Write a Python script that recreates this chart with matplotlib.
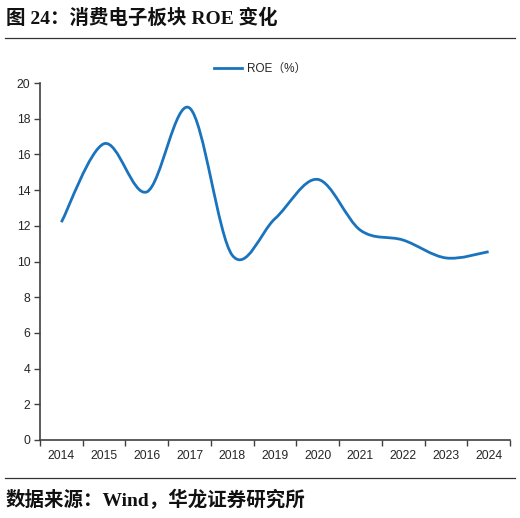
import numpy as np
import matplotlib
matplotlib.use("Agg")
import matplotlib.pyplot as plt
from matplotlib.path import Path
from matplotlib.patches import PathPatch
from matplotlib.lines import Line2D

years = ["2014", "2015", "2016", "2017", "2018", "2019", "2020", "2021", "2022", "2023", "2024"]
roe = [12.2, 16.6, 13.9, 18.6, 10.35, 12.4, 14.6, 11.75, 11.2, 10.2, 10.55]
yticks = [0, 2, 4, 6, 8, 10, 12, 14, 16, 18, 20]
series_name = "ROE（%）"
title = "图 24：消费电子板块 ROE 变化"
source = "数据来源：Wind，华龙证券研究所"

LINE_COLOR = "#1a74bd"
AXIS_COLOR = "#404040"
TXT_COLOR = "#262626"

plt.rcParams['font.family'] = ['Liberation Sans', 'Noto Sans CJK SC', 'DejaVu Sans']

fig = plt.figure(figsize=(5.2, 5.18), dpi=100)
W, H = 520, 518
ax = fig.add_axes([40 / W, 1 - 440 / H, 470 / W, (440 - 83) / H])

x = np.arange(len(years), dtype=float)
y = np.array(roe, dtype=float)

# smoothed line (Catmull-Rom style Bezier through the data points)
verts = [(x[0], y[0])]
codes = [Path.MOVETO]
n = len(x)
for i in range(n - 1):
    p_prev = np.array([x[max(i - 1, 0)], y[max(i - 1, 0)]])
    p0 = np.array([x[i], y[i]])
    p1 = np.array([x[i + 1], y[i + 1]])
    p_next = np.array([x[min(i + 2, n - 1)], y[min(i + 2, n - 1)]])
    c1 = p0 + (p1 - p_prev) / 6.0
    c2 = p1 - (p_next - p0) / 6.0
    verts += [tuple(c1), tuple(c2), tuple(p1)]
    codes += [Path.CURVE4] * 3
path = Path(verts, codes)
ax.add_patch(PathPatch(path, facecolor="none", edgecolor=LINE_COLOR, lw=2.0,
                       capstyle="butt", joinstyle="round"))
ax.plot([], [], color=LINE_COLOR, lw=2.0, label=series_name)

ax.set_xlim(-0.5, n - 0.5)
ax.set_ylim(0, 20)
ax.set_yticks(yticks)
ax.set_yticklabels([str(t) for t in yticks])
ax.set_xticks(x)
ax.set_xticklabels(years)
ax.set_xticks(np.arange(-0.5, n, 1.0), minor=True)

for s in ["top", "right"]:
    ax.spines[s].set_visible(False)
for s in ["left", "bottom"]:
    ax.spines[s].set_color(AXIS_COLOR)
    ax.spines[s].set_linewidth(1.2)

ax.tick_params(axis="x", which="major", length=0, pad=7, labelsize=8.8, labelcolor=TXT_COLOR)
ax.tick_params(axis="x", which="minor", length=4, width=1.0, color=AXIS_COLOR, direction="out")
ax.tick_params(axis="y", length=4, width=1.0, color=AXIS_COLOR, direction="out",
               pad=3, labelsize=8.8, labelcolor=TXT_COLOR)

leg = ax.legend(loc="center", bbox_to_anchor=(0.5, (H - 69) / H), bbox_transform=fig.transFigure,
                frameon=False, fontsize=8.5, handlelength=2.4, handletextpad=0.4)
for t in leg.get_texts():
    t.set_color(TXT_COLOR)

fig.text(6 / W, 1 - 18 / H, title, fontsize=14, fontweight="bold", va="center", ha="left",
         family=['Liberation Serif', 'Noto Sans CJK SC'], color="#111111")
fig.text(6 / W, 1 - 500 / H, source, fontsize=14, fontweight="bold", va="center", ha="left",
         family=['Liberation Serif', 'Noto Sans CJK SC'], color="#111111")

fig.add_artist(Line2D([5 / W, 515 / W], [1 - 38 / H, 1 - 38 / H], color="#333333", lw=0.9,
                      transform=fig.transFigure))
fig.add_artist(Line2D([5 / W, 515 / W], [1 - 477.5 / H, 1 - 477.5 / H], color="#333333", lw=0.9,
                      transform=fig.transFigure))

fig.savefig("out.png", dpi=100, facecolor="white")
